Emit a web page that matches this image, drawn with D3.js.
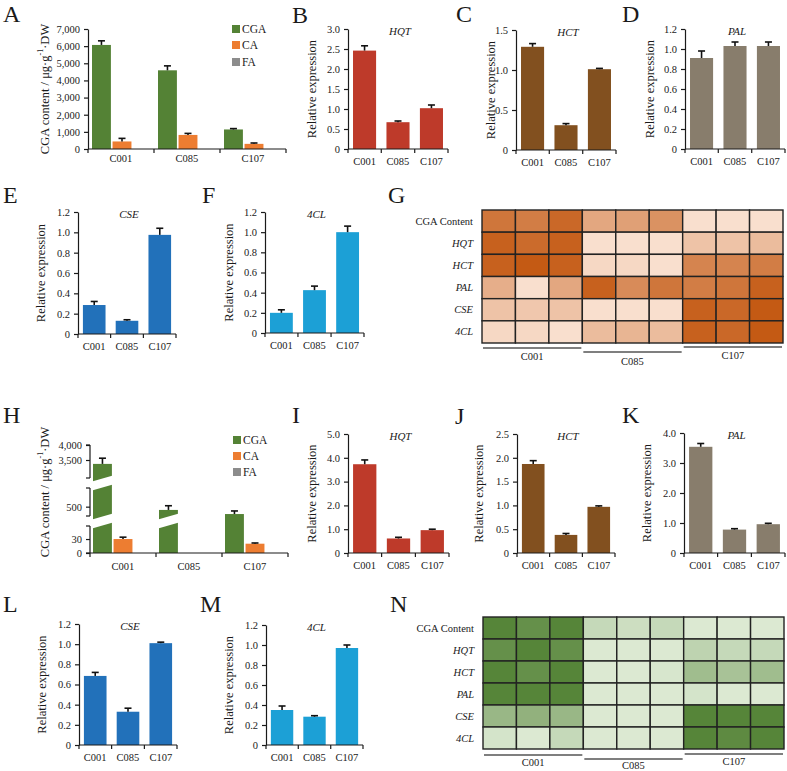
<!DOCTYPE html>
<html><head><meta charset="utf-8">
<script src="https://cdn.jsdelivr.net/npm/d3@7"></script>
<style>
body{margin:0;background:#fff}
svg{display:block}
text{font-family:"Liberation Serif","Times New Roman",serif;fill:#1a1a1a}
</style>
</head><body>
<svg id="c" width="787" height="771"></svg>
<script>
// ---------------- DATA ----------------
const samples = ["C001", "C085", "C107"];
const contentSeries = ["CGA", "CA", "FA"];

// Panel A (content, first tissue)
const aCGA = [6070, 4590, 1140];
const aCGAErr = [240, 260, 50];
const aCA = [440, 820, 300];
const aCAErr = [180, 90, 50];
const aFA = [0, 0, 0];
const aFAErr = [0, 0, 0];
const aTicks = [0, 1000, 2000, 3000, 4000, 5000, 6000, 7000];

// Panels B-F
const hqt1 = [2.46, 0.67, 1.02], hqt1Err = [0.12, 0.03, 0.08];
const hct1 = [1.29, 0.31, 1.01], hct1Err = [0.04, 0.02, 0.01];
const pal1 = [0.91, 1.03, 1.03], pal1Err = [0.07, 0.04, 0.04];
const cse1 = [0.285, 0.13, 0.975], cse1Err = [0.035, 0.01, 0.065];
const cl1 = [0.20, 0.425, 1.00], cl1Err = [0.03, 0.04, 0.06];

// Panel H (content, second tissue, broken axis)
const hCGA = [3370, 465, 421];
const hCGAErr = [190, 45, 33];
const hCA = [30, 0, 20];
const hCAErr = [4, 0, 1.5];
const hFA = [0, 0, 0];
const hFAErr = [0, 0, 0];
const hTicks = [0, 30, 500, 3500, 4000];
const hSegments = [[0, 58], [400, 700], [2900, 4000]];
const hBreaks = [[0, 1], [0], []]; // which axis gaps are drawn across each CGA bar

// Panels I-M
const hqt2 = [3.73, 0.61, 0.96], hqt2Err = [0.18, 0.05, 0.04];
const hct2 = [1.87, 0.38, 0.97], hct2Err = [0.07, 0.03, 0.02];
const pal2 = [3.54, 0.78, 0.96], pal2Err = [0.11, 0.03, 0.03];
const cse2 = [0.685, 0.33, 1.01], cse2Err = [0.035, 0.035, 0.01];
const cl2 = [0.35, 0.283, 0.97], cl2Err = [0.04, 0.01, 0.03];

// Heatmaps (relative intensity 0..1)
const heatRows = ["CGA Content", "HQT", "HCT", "PAL", "CSE", "4CL"];
const heatG = [
  [0.80, 0.75, 0.90, 0.45, 0.50, 0.60, 0.05, 0.05, 0.05],
  [0.95, 0.88, 0.95, 0.05, 0.05, 0.05, 0.25, 0.25, 0.30],
  [0.95, 1.00, 0.95, 0.10, 0.10, 0.05, 0.70, 0.70, 0.75],
  [0.40, 0.05, 0.45, 0.95, 0.65, 0.80, 0.75, 0.80, 0.95],
  [0.25, 0.22, 0.25, 0.05, 0.05, 0.05, 0.95, 0.90, 1.00],
  [0.10, 0.10, 0.05, 0.30, 0.35, 0.30, 0.95, 0.90, 1.00]
];
const heatN = [
  [0.95, 0.85, 0.95, 0.20, 0.15, 0.20, 0.05, 0.05, 0.05],
  [0.85, 0.95, 0.85, 0.05, 0.05, 0.05, 0.25, 0.20, 0.20],
  [0.95, 0.85, 0.95, 0.05, 0.05, 0.08, 0.45, 0.40, 0.45],
  [0.95, 0.95, 0.95, 0.05, 0.05, 0.05, 0.10, 0.05, 0.05],
  [0.50, 0.55, 0.50, 0.05, 0.05, 0.05, 0.95, 0.95, 0.95],
  [0.10, 0.05, 0.20, 0.05, 0.05, 0.05, 0.95, 0.90, 0.95]
];

// ---------------- DRAWING ----------------
const svg = d3.select("#c");
const INK = "#1a1a1a";
const contentColors = {CGA: "#548235", CA: "#ED7D31", FA: "#8c8c8c"};
const fmt1 = d => d === 0 ? "0" : d3.format(".1f")(d);

function letter(t, x, y) {
  svg.append("text").attr("x", x).attr("y", y).attr("font-size", 24).text(t);
}

function yTitle(x, y, text) {
  svg.append("text").attr("transform", `translate(${x},${y}) rotate(-90)`)
    .attr("text-anchor", "middle").attr("dominant-baseline", "central")
    .attr("font-size", 12.5).text(text);
}

function contentTitle(x, y) {
  const t = svg.append("text").attr("transform", `translate(${x},${y}) rotate(-90)`)
    .attr("text-anchor", "middle").attr("dominant-baseline", "central").attr("font-size", 12.5);
  t.append("tspan").text("CGA content / μg·g");
  t.append("tspan").attr("font-size", 8).attr("dy", -5).text("-1");
  t.append("tspan").attr("dy", 5).text("·DW");
}

function styleAxis(sel) {
  sel.attr("font-family", null);
  sel.selectAll("path,line").attr("stroke", INK).attr("stroke-width", 1.2);
  sel.selectAll("text").attr("font-size", 10.5).attr("fill", INK)
    .style("font-family", '"Liberation Serif",serif');
}

function xAxis(x0, x1, y0, xs, labelDy) {
  const g = svg.append("g");
  g.append("line").attr("x1", x0).attr("x2", x1).attr("y1", y0).attr("y2", y0)
    .attr("stroke", INK).attr("stroke-width", 1.2);
  const half = xs.step() * xs.paddingInner() / 2;
  const bounds = [x0].concat(samples.slice(1).map(d => xs(d) - half)).concat([x1]);
  g.selectAll("line.tk").data(bounds).join("line").attr("class", "tk")
    .attr("x1", d => d).attr("x2", d => d).attr("y1", y0).attr("y2", y0 + 4)
    .attr("stroke", INK).attr("stroke-width", 1.2);
  g.selectAll("text").data(samples).join("text")
    .attr("x", d => xs(d) + xs.bandwidth() / 2).attr("y", y0 + labelDy)
    .attr("text-anchor", "middle").attr("font-size", 10.5).text(d => d);
}

function errBar(g, cx, yv, ye) {
  g.append("line").attr("x1", cx).attr("x2", cx).attr("y1", yv).attr("y2", ye)
    .attr("stroke", "#111").attr("stroke-width", 1.6);
  g.append("line").attr("x1", cx - 3.5).attr("x2", cx + 3.5).attr("y1", ye).attr("y2", ye)
    .attr("stroke", "#111").attr("stroke-width", 1.6);
}

function barPanel(o) {
  const g = svg.append("g");
  const x = d3.scaleBand().domain(samples).range([o.x0, o.x1]).paddingInner(0.31).paddingOuter(0.15);
  const y = d3.scaleLinear().domain([0, o.max]).range([o.y0, o.y1]);
  const ya = g.append("g").attr("transform", `translate(${o.x0},0)`)
    .call(d3.axisLeft(y).tickValues(o.ticks).tickSize(4).tickSizeOuter(0).tickPadding(4).tickFormat(o.fmt || fmt1));
  styleAxis(ya);
  xAxis(o.x0, o.x1, o.y0, x, 16);
  samples.forEach((s, i) => {
    g.append("rect").attr("x", x(s)).attr("width", x.bandwidth())
      .attr("y", y(o.values[i])).attr("height", y(0) - y(o.values[i])).attr("fill", o.color);
    if (o.errs[i] > 0) errBar(g, x(s) + x.bandwidth() / 2, y(o.values[i]), y(o.values[i] + o.errs[i]));
  });
  g.append("text").attr("x", (o.x0 + o.x1) / 2 + 2).attr("y", o.y1 + 6)
    .attr("text-anchor", "middle").attr("font-size", 11).attr("font-style", "italic").text(o.title);
  yTitle(o.x0 - (o.ytOff || 36), (o.y0 + o.y1) / 2, "Relative expression");
}

function legend(x, ys) {
  contentSeries.forEach((s, i) => {
    svg.append("rect").attr("x", x).attr("y", ys[i] - 4).attr("width", 8).attr("height", 8).attr("fill", contentColors[s]);
    svg.append("text").attr("x", x + 10).attr("y", ys[i] + 4).attr("font-size", 11.5).text(s);
  });
}

function contentPanel(o) {
  const g = svg.append("g");
  const x = d3.scaleBand().domain(samples).range([o.x0, o.x1]);
  const xi = d3.scaleBand().domain(contentSeries).range(o.inner).paddingInner(0.08);
  const y = o.y;
  const ya = g.append("g").attr("transform", `translate(${o.x0},0)`)
    .call(d3.axisLeft(y).tickValues(o.ticks).tickSize(4).tickSizeOuter(0).tickPadding(4).tickFormat(d3.format(",")));
  styleAxis(ya);
  if (o.segments) {
    ya.select(".domain").remove();
    o.segments.forEach(sg => {
      const a = y(sg[0]), b = y(sg[1]);
      g.append("line").attr("x1", o.x0).attr("x2", o.x0).attr("y1", a).attr("y2", b).attr("stroke", INK).attr("stroke-width", 1.2);
      [a, b].forEach(v => g.append("line").attr("x1", o.x0 - 4).attr("x2", o.x0).attr("y1", v).attr("y2", v).attr("stroke", INK).attr("stroke-width", 1.2));
    });
  }
  xAxis(o.x0, o.x1, o.y0, x, o.labelDy);
  contentSeries.forEach((s, k) => {
    const vals = o.values[k], errs = o.errs[k];
    samples.forEach((c, i) => {
      if (vals[i] <= 0) return;
      const bx = x(c) + xi(s);
      g.append("rect").attr("x", bx).attr("width", xi.bandwidth())
        .attr("y", y(vals[i])).attr("height", y(0) - y(vals[i])).attr("fill", contentColors[s]);
      if (errs[i] > 0) errBar(g, bx + xi.bandwidth() / 2, y(vals[i]), y(vals[i] + errs[i]));
      if (o.breaks && s === "CGA") {
        o.breaks[i].forEach(gi => {
          const mid = (y(o.segments[gi][1]) + y(o.segments[gi + 1][0])) / 2;
          const xl = bx - 1, xr = bx + xi.bandwidth() + 1, h = 9, sl = 3;
          g.append("polygon").attr("fill", "#fff").attr("points",
            [[xl, mid + h / 2 + sl], [xr, mid + h / 2 - sl], [xr, mid - h / 2 - sl], [xl, mid - h / 2 + sl]].map(p => p.join(",")).join(" "));
        });
      }
    });
  });
}

function heatmap(o) {
  const g = svg.append("g");
  const x = d3.scaleBand().domain(d3.range(9)).range([o.x0, o.x1]);
  const y = d3.scaleBand().domain(heatRows).range([o.y0, o.y1]);
  const col = d3.scaleLinear().domain([0, 1]).range(o.colors).interpolate(d3.interpolateRgb);
  heatRows.forEach((r, ri) => {
    o.data[ri].forEach((v, ci) => {
      g.append("rect").attr("x", x(ci)).attr("y", y(r)).attr("width", x.bandwidth()).attr("height", y.bandwidth())
        .attr("fill", col(v)).attr("stroke", "#222").attr("stroke-width", 1.4);
    });
    g.append("text").attr("x", o.x0 - 9).attr("y", y(r) + y.bandwidth() / 2)
      .attr("text-anchor", "end").attr("dominant-baseline", "central").attr("font-size", 10.5)
      .attr("font-style", ri === 0 ? "normal" : "italic").text(r);
  });
  samples.forEach((s, k) => {
    const xa = x(3 * k) + 1, xb = x(3 * k + 2) + x.bandwidth() - 1;
    g.append("line").attr("x1", xa).attr("x2", xb).attr("y1", o.lineYs[k]).attr("y2", o.lineYs[k])
      .attr("stroke", "#555").attr("stroke-width", 1.5);
    g.append("text").attr("x", (xa + xb) / 2).attr("y", o.labelYs[k]).attr("text-anchor", "middle")
      .attr("font-size", 10.5).text(s);
  });
}

// ---- Row 1 ----
letter("A", 3, 22);
contentPanel({x0: 88, x1: 286, y0: 149, inner: [4, 64],
  y: d3.scaleLinear().domain([0, 7000]).range([149, 29]), ticks: aTicks, labelDy: 13,
  values: [aCGA, aCA, aFA], errs: [aCGAErr, aCAErr, aFAErr]});
legend(232, [29, 45, 62]);
contentTitle(45, 89);

letter("B", 292, 23);
barPanel({x0: 348, x1: 448, y0: 149, y1: 29, max: 3.0, ticks: [0, 0.5, 1.0, 1.5, 2.0, 2.5, 3.0], values: hqt1, errs: hqt1Err, color: "#BE3A2A", title: "HQT"});
letter("C", 456, 22);
barPanel({x0: 516, x1: 616, y0: 150, y1: 30, max: 1.5, ticks: [0, 0.5, 1.0, 1.5], values: hct1, errs: hct1Err, color: "#82501F", title: "HCT", ytOff: 25});
letter("D", 622, 22);
barPanel({x0: 685, x1: 785, y0: 149, y1: 29, max: 1.2, ticks: [0, 0.2, 0.4, 0.6, 0.8, 1.0, 1.2], values: pal1, errs: pal1Err, color: "#887D6C", title: "PAL", ytOff: 35});

// ---- Row 2 ----
letter("E", 3, 203);
barPanel({x0: 78, x1: 176, y0: 334, y1: 212, max: 1.2, ticks: [0, 0.2, 0.4, 0.6, 0.8, 1.0, 1.2], values: cse1, errs: cse1Err, color: "#2271BA", title: "CSE", ytOff: 37});
letter("F", 202, 203);
barPanel({x0: 265, x1: 364, y0: 333, y1: 212, max: 1.2, ticks: [0, 0.2, 0.4, 0.6, 0.8, 1.0, 1.2], values: cl1, errs: cl1Err, color: "#1CA0D6", title: "4CL"});
letter("G", 388, 203);
heatmap({x0: 482, x1: 783, y0: 210, y1: 343, data: heatG, colors: ["#FCE6D8", "#C45A14"],
  lineYs: [348, 352, 347], labelYs: [360, 365, 359]});

// ---- Row 3 ----
letter("H", 3, 423);
contentPanel({x0: 90, x1: 288, y0: 553, inner: [3, 63],
  y: d3.scaleLinear().domain([0, 58, 400, 700, 2900, 4000]).range([553, 526, 516, 488, 478, 445]),
  ticks: hTicks, segments: hSegments, breaks: hBreaks, labelDy: 17,
  values: [hCGA, hCA, hFA], errs: [hCGAErr, hCAErr, hFAErr]});
legend(233, [440, 456, 472]);
contentTitle(45, 492);

letter("I", 292, 423);
barPanel({x0: 348, x1: 449, y0: 553, y1: 434, max: 5.0, ticks: [0, 1, 2, 3, 4, 5], values: hqt2, errs: hqt2Err, color: "#BE3A2A", title: "HQT"});
letter("J", 455, 424);
barPanel({x0: 517, x1: 615, y0: 553, y1: 434, max: 2.5, ticks: [0, 0.5, 1.0, 1.5, 2.0, 2.5], values: hct2, errs: hct2Err, color: "#82501F", title: "HCT", ytOff: 38});
letter("K", 622, 423);
barPanel({x0: 684, x1: 785, y0: 553, y1: 433, max: 4.0, ticks: [0, 1, 2, 3, 4], values: pal2, errs: pal2Err, color: "#887D6C", title: "PAL", ytOff: 37});

// ---- Row 4 ----
letter("L", 3, 612);
barPanel({x0: 79, x1: 177, y0: 745, y1: 624, max: 1.2, ticks: [0, 0.2, 0.4, 0.6, 0.8, 1.0, 1.2], values: cse2, errs: cse2Err, color: "#2271BA", title: "CSE", ytOff: 37});
letter("M", 200, 612);
barPanel({x0: 266, x1: 363, y0: 745, y1: 625, max: 1.2, ticks: [0, 0.2, 0.4, 0.6, 0.8, 1.0, 1.2], values: cl2, errs: cl2Err, color: "#1CA0D6", title: "4CL", ytOff: 37});
letter("N", 390, 612);
heatmap({x0: 483, x1: 784, y0: 617, y1: 749, data: heatN, colors: ["#E3EFDB", "#4F7F30"],
  lineYs: [755, 759, 754], labelYs: [766, 769, 765]});
</script>
</body></html>
